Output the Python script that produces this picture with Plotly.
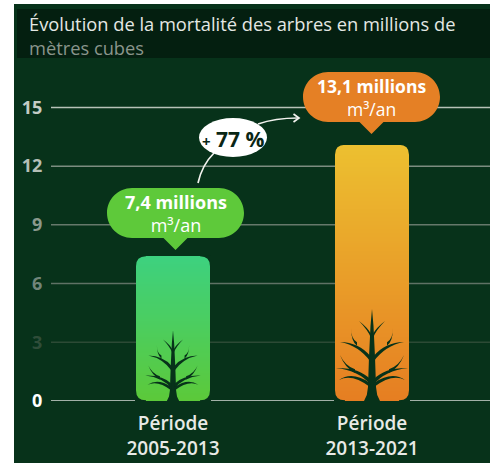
import plotly.graph_objects as go

# ---- data ----
categories = ["Période<br>2005-2013", "Période<br>2013-2021"]
values = [7.4, 13.1]
value_labels = ["7,4 millions", "13,1 millions"]
unit_label = "m³/an"
ytick_values = [0, 3, 6, 9, 12, 15]
ytick_colors = ["#ffffff", "#2f4d39", "#71857a", "#8a998d", "#b5bfb6", "#c4ccc5"]
grid_colors = ["#d9dcd8", "#2c4a35", "#5f7265", "#66796b", "#7c8d80", "#b7c2b8"]
title_line1 = "Évolution de la mortalité des arbres en millions de"
title_line2 = "mètres cubes"
growth_label = "<span style='font-size:15px'>+</span> 77 %"

# ---- layout constants ----
W, H = 490, 463
L, R, T, B = 51, 0, 58, 62
PW, PH = W - L - R, H - T - B
PX_PER_X = 199.0          # pixels between the two bar centres
PX_PER_Y = 19.57
X0_PX = 173.0             # pixel position of x = 0
Y0_PX = T + PH
BAR_PX, RADIUS_PX = 74.0, 10.0
PANEL, HEADER = "#07321a", "#041f10"
TREE_DARK = "#07321a"
FONT = "Open Sans"
bar_grad = [("#5cc93a", "#3dd17f"), ("#e67e22", "#ecc030")]
bubble_colors = ["#5ec93a", "#e58025"]


def dx(px):
    return (px - X0_PX) / PX_PER_X


def dy(py):
    return (Y0_PX - py) / PX_PER_Y


def pt(px, py):
    return f"{dx(px):.5f},{dy(py):.5f}"


def fx(px):
    return (px - L) / PW


def fy(py):
    return 1 - (py - T) / PH


def mix(a, b, t):
    ca = [int(a[i:i + 2], 16) for i in (1, 3, 5)]
    cb = [int(b[i:i + 2], 16) for i in (1, 3, 5)]
    return "rgb(" + ",".join(str(round(p + (q - p) * t)) for p, q in zip(ca, cb)) + ")"


fig = go.Figure()
shapes = []

# bars: each value is stacked from thin slices to carry the vertical gradient
for i, v in enumerate(values):
    height_px = v * PX_PER_Y
    n = round(height_px / 2)
    h = v / n
    xs = [i] * n
    ys = [h] * n
    bases = [k * h for k in range(n)]
    colors = [mix(bar_grad[i][0], bar_grad[i][1], (k + 0.5) / n) for k in range(n)]
    fig.add_trace(go.Bar(x=xs, y=ys, base=bases, width=BAR_PX / PX_PER_X,
                         marker=dict(color=colors, line=dict(width=0)),
                         hoverinfo="skip", showlegend=False))
    # rounded bar ends
    cx = X0_PX + i * PX_PER_X
    top, bot = Y0_PX - height_px, Y0_PX - 0.8
    r = RADIUS_PX
    for sx in (-1, 1):
        ex = cx + sx * BAR_PX / 2
        for yc, sy in ((top, 1), (bot, -1)):
            p = (f"M {pt(ex + sx, yc - sy)} L {pt(ex - sx * r, yc - sy)} L {pt(ex - sx * r, yc)} "
                 f"Q {pt(ex, yc)} {pt(ex, yc + sy * r)} L {pt(ex + sx, yc + sy * r)} Z")
            shapes.append(dict(type="path", xref="x", yref="y", path=p, fillcolor=PANEL,
                               line_width=0, layer="above"))

# panel, header band
shapes.append(dict(type="rect", xref="paper", yref="paper", x0=fx(14), x1=1, y0=fy(463), y1=fy(4),
                   fillcolor=PANEL, line_width=0, layer="below"))
shapes.append(dict(type="rect", xref="paper", yref="paper", x0=fx(17), x1=1, y0=fy(58), y1=fy(9),
                   fillcolor=HEADER, line_width=0, layer="below"))
# gridlines
for tv, col in zip(ytick_values, grid_colors):
    shapes.append(dict(type="line", xref="paper", yref="y", x0=0, x1=1, y0=tv, y1=tv,
                       line=dict(color=col, width=1.5), layer="below"))


def bubble(cx, top_py, color, tip_py):
    w, h, r = 68.5, 50.0, 25.0
    k = r * 0.45
    l, rr, t, b = cx - w, cx + w, top_py, top_py + h
    p = (f"M {pt(l + r, t)} L {pt(rr - r, t)} C {pt(rr - k, t)} {pt(rr, t + k)} {pt(rr, t + r)} "
         f"C {pt(rr, b - k)} {pt(rr - k, b)} {pt(rr - r, b)} L {pt(cx + 12, b)} L {pt(cx, tip_py)} L {pt(cx - 12, b)} "
         f"L {pt(l + r, b)} C {pt(l + k, b)} {pt(l, b - k)} {pt(l, t + r)} C {pt(l, t + k)} {pt(l + k, t)} {pt(l + r, t)} Z")
    return dict(type="path", xref="x", yref="y", path=p, fillcolor=color, line_width=0, layer="above")


shapes.append(bubble(175.5, 188, bubble_colors[0], 250))
shapes.append(bubble(371.5, 72, bubble_colors[1], 134))

# growth arrow
arrow_line = dict(color="#f2f2ee", width=1.7)
shapes.append(dict(type="path", xref="x", yref="y",
                   path=f"M {pt(198, 183)} Q {pt(202, 165)} {pt(214, 153)}", line=arrow_line, layer="above"))
shapes.append(dict(type="path", xref="x", yref="y",
                   path=f"M {pt(258, 124)} Q {pt(275, 118)} {pt(298, 118)}", line=arrow_line, layer="above"))
shapes.append(dict(type="path", xref="x", yref="y",
                   path=f"M {pt(293.5, 114)} L {pt(299, 118)} L {pt(293.5, 122)}", line=arrow_line, layer="above"))
shapes.append(dict(type="circle", xref="x", yref="y", x0=dx(199), x1=dx(267), y0=dy(157), y1=dy(118),
                   fillcolor="#ffffff", line_width=0, layer="above"))

# trees
trunk = [(-8, 0), (-5.2, 6), (-4, 14), (-3, 44), (-1.5, 75), (0, 92), (1.5, 75), (3, 44), (4, 14), (5.2, 6), (8, 0)]
branches = [  # start, control, end, half-width
    ((1.5, 19), (13, 32), (36, 33), 2.6),
    ((2, 16), (20, 29), (33, 21), 2.1),
    ((17, 30), (27, 34), (32, 46), 1.8),
    ((1.5, 42), (13, 57), (32, 59), 2.7),
    ((15, 57), (21, 61), (21, 73), 1.8),
    ((1, 65), (4, 72), (13, 80), 1.9),
]


def tree(cx, scale):
    out = []
    base = Y0_PX
    p = "M " + " L ".join(pt(cx + a * scale, base - b * scale) for a, b in trunk) + " Z"
    out.append(dict(type="path", xref="x", yref="y", path=p, fillcolor=TREE_DARK, line_width=0, layer="above"))
    for sign in (1, -1):
        for s, c, e, w in branches:
            sx, sy = cx + sign * s[0] * scale, base - s[1] * scale
            cxx, cy = cx + sign * c[0] * scale, base - c[1] * scale
            ex, ey = cx + sign * e[0] * scale, base - e[1] * scale
            hw = w * (scale ** 0.5)
            p = (f"M {pt(sx, sy - hw)} Q {pt(cxx, cy - hw * 0.6)} {pt(ex, ey)} "
                 f"Q {pt(cxx, cy + hw * 0.6)} {pt(sx, sy + hw)} Z")
            out.append(dict(type="path", xref="x", yref="y", path=p, fillcolor=TREE_DARK, line_width=0, layer="above"))
    return out


shapes += tree(173, 0.77)
shapes += tree(372, 1.0)


def text_at(px, py, text, size, color, weight=400):
    return dict(x=dx(px), y=dy(py), xref="x", yref="y", text=text, showarrow=False,
                font=dict(family=FONT, size=size, color=color, weight=weight), align="center")


annotations = [
    text_at(175.5, 213.5, f"<b>{value_labels[0]}</b><br>{unit_label}", 18, "#ffffff"),
    text_at(371.5, 97.5, f"<b>{value_labels[1]}</b><br>{unit_label}", 17.5, "#ffffff"),
    text_at(233, 139, growth_label, 21, "#0a2615", 700),
]

fig.update_layout(
    width=W, height=H,
    margin=dict(l=L, r=R, t=T, b=B, pad=0, autoexpand=False),
    paper_bgcolor="#ffffff", plot_bgcolor="rgba(0,0,0,0)",
    barmode="overlay", bargap=0, showlegend=False, hovermode=False,
    title=dict(text=f"{title_line1}<br><span style='color:#8a958c'>{title_line2}</span>",
               x=29 / W, xanchor="left", xref="container",
               y=1 - 31 / H, yanchor="middle", yref="container",
               font=dict(family=FONT, size=18.3, color="#e4e8e4")),
    shapes=shapes, annotations=annotations,
    xaxis=dict(range=[dx(L), dx(W)], tickmode="array", tickvals=[0, 1], ticktext=categories,
               showgrid=False, zeroline=False, showline=False, ticks="outside", ticklen=5,
               tickcolor="rgba(0,0,0,0)", tickfont=dict(family=FONT, size=19, color="#e8eae6", weight=600)),
    yaxis=dict(range=[0, PH / PX_PER_Y], tickmode="array", tickvals=ytick_values,
               ticktext=[f"<span style='color:{c}'>{v}</span>" for v, c in zip(ytick_values, ytick_colors)],
               showgrid=False, zeroline=False, showline=False, ticks="outside", ticklen=4,
               tickcolor="rgba(0,0,0,0)", tickfont=dict(family=FONT, size=18, color="#c4ccc5", weight=700)),
)

fig.write_html("out.html", config={"displayModeBar": False},
               post_script="document.body.style.margin='0';")
